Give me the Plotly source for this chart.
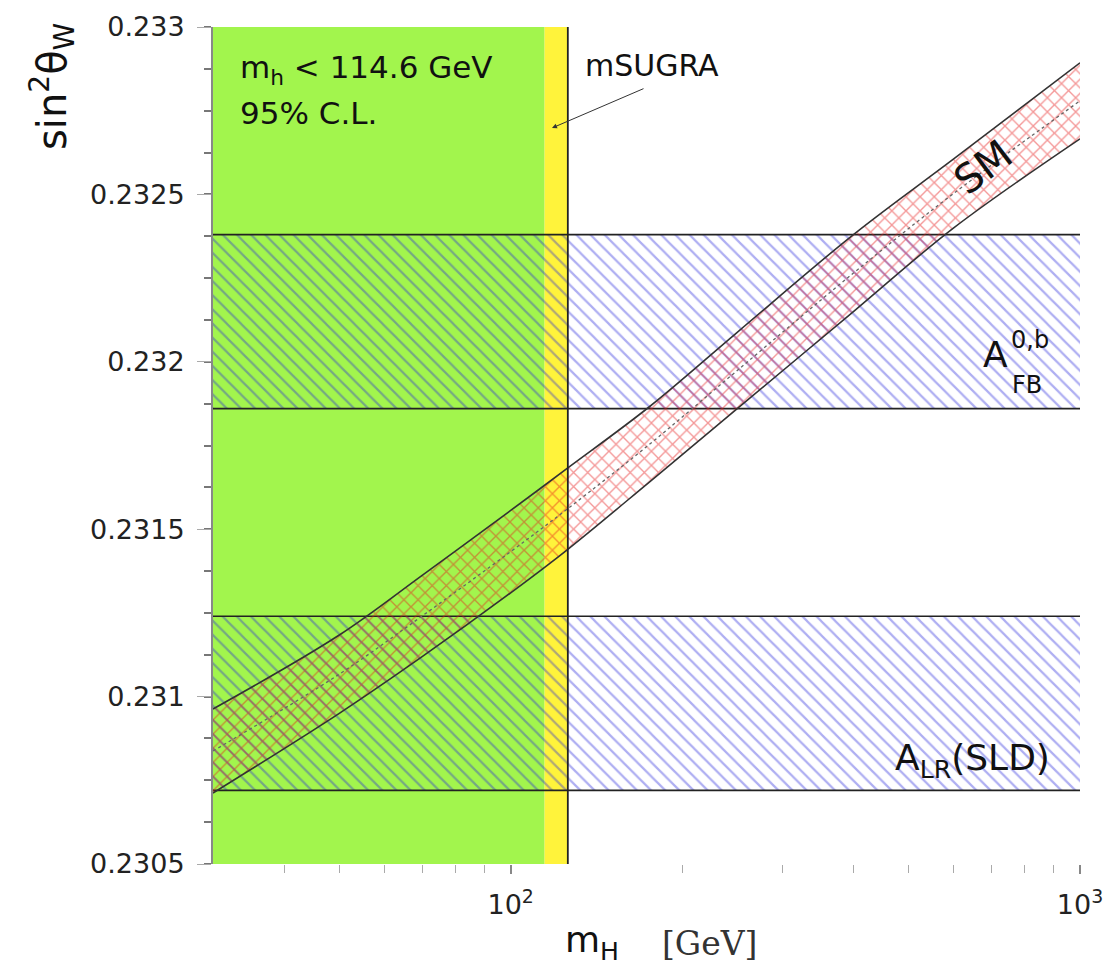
import numpy as np
import plotly.graph_objects as go

# ---------------- data ----------------
x_range_mh = [30, 1000]
y_range = [0.2305, 0.2330]

# excluded regions
lep_limit = 114.6          # m_h < 114.6 GeV (95% C.L.)
msugra_max = 126.0         # upper end of mSUGRA band

# measurement bands (sin^2 theta_W)
afb_band = [0.23186, 0.23238]   # A_FB^{0,b}
alr_band = [0.23072, 0.23124]   # A_LR (SLD)

# SM prediction band vs m_H
sm_mh = [30, 50, 70, 100, 126, 175, 250, 400, 600, 1000]
sm_upper = [0.230963, 0.231184, 0.231363, 0.231556, 0.231683, 0.231865, 0.232088, 0.232380, 0.232606, 0.232893]
sm_lower = [0.230712, 0.230950, 0.231120, 0.231310, 0.231440, 0.231640, 0.231860, 0.232150, 0.232400, 0.232666]
sm_center = [(u + l) / 2 for u, l in zip(sm_upper, sm_lower)]

y_major = [0.2305, 0.2310, 0.2315, 0.2320, 0.2325, 0.2330]
y_major_text = ["0.2305", "0.231", "0.2315", "0.232", "0.2325", "0.233"]
y_minor = [0.2305 + 0.000125 * i for i in range(21)]
x_major = [100, 1000]
x_major_text = ["10<sup>2</sup>", "10<sup>3</sup>"]
x_minor = [40, 50, 60, 70, 80, 90, 200, 300, 400, 500, 600, 700, 800, 900]

# ---------------- layout helpers ----------------
OFF = 8                      # default page body margin
W, H = 1118 - OFF, 967 - OFF
L, R, T, B = 213, 1080, 27, 864   # plot area in screenshot pixels


def px(x):
    return (x - L) / (R - L)


def py(y):
    return (B - y) / (B - T)


SANS = "DejaVu Sans, Verdana, sans-serif"
SERIF = "DejaVu Serif, Liberation Serif, serif"

fig = go.Figure()

# measurement bands (blue hatched)
for band in (afb_band, alr_band):
    fig.add_trace(go.Scatter(
        x=[x_range_mh[0], x_range_mh[1], x_range_mh[1], x_range_mh[0], x_range_mh[0]],
        y=[band[0], band[0], band[1], band[1], band[0]],
        mode="lines", line=dict(width=0), fill="toself",
        fillcolor="rgba(0,0,0,0)",
        fillpattern=dict(shape="\\", fgcolor="rgba(40,40,220,0.75)", bgcolor="rgba(0,0,0,0)",
                         size=10, solidity=0.22, fillmode="overlay"),
        hoverinfo="skip", showlegend=False))
    for yv in band:
        fig.add_trace(go.Scatter(x=x_range_mh, y=[yv, yv], mode="lines",
                                 line=dict(color="#222", width=1.6),
                                 hoverinfo="skip", showlegend=False))

# SM band (red cross-hatched) : lower edge, then upper edge filled to it
fig.add_trace(go.Scatter(x=sm_mh, y=sm_lower, mode="lines",
                         line=dict(color="#333", width=1.6, shape="spline", smoothing=1.0),
                         hoverinfo="skip", showlegend=False))
fig.add_trace(go.Scatter(
    x=sm_mh, y=sm_upper, mode="lines",
    line=dict(color="#333", width=1.6, shape="spline", smoothing=1.0),
    fill="tonexty", fillcolor="rgba(0,0,0,0)",
    fillpattern=dict(shape="x", fgcolor="rgba(230,25,25,0.9)", bgcolor="rgba(0,0,0,0)",
                     size=10, solidity=0.25, fillmode="overlay"),
    hoverinfo="skip", showlegend=False))
fig.add_trace(go.Scatter(x=sm_mh, y=sm_center, mode="lines",
                         line=dict(color="#666", width=1.3, dash="dot", shape="spline"),
                         hoverinfo="skip", showlegend=False))

# mSUGRA boundary line
fig.add_trace(go.Scatter(x=[msugra_max, msugra_max], y=y_range, mode="lines",
                         line=dict(color="#222", width=1.8),
                         hoverinfo="skip", showlegend=False))

shapes = [
    dict(type="rect", xref="x", yref="y", layer="below",
         x0=lep_limit, x1=msugra_max, y0=y_range[0], y1=y_range[1],
         fillcolor="#fff33b", line=dict(width=0)),
    dict(type="rect", xref="x", yref="y", layer="below",
         x0=x_range_mh[0], x1=lep_limit, y0=y_range[0], y1=y_range[1],
         fillcolor="#a2f54d", line=dict(width=0)),
]


def note(text, x, y, size, xanchor="center", angle=0, family=SANS, color="#111"):
    return dict(text=text, x=px(x), y=py(y), xref="paper", yref="paper",
                xanchor=xanchor, yanchor="middle", textangle=angle, showarrow=False,
                font=dict(family=family, size=size, color=color))


ann = [
    note("m<sub>h</sub> < 114.6 GeV", 238, 70, 31, "left"),
    note("95% C.L.", 238, 113, 31, "left"),
    note("mSUGRA", 583, 66, 30, "left"),
    dict(text="", x=px(552), y=py(128), xref="paper", yref="paper",
         ax=93, ay=-40, showarrow=True, arrowhead=2, arrowsize=1, arrowwidth=1,
         arrowcolor="#333"),
    note("SM", 983, 167, 40, angle=-37),
    note("A", 995, 354, 36),
    note("0,b", 1009, 340, 24, "left"),
    note("FB", 1010, 385, 24, "left"),
    note("A<sub>LR</sub>(SLD)", 1052, 760, 36, "right"),
    note("sin<sup>2</sup>θ<sub>W</sub>", 52, 87, 40, angle=-90),
    note("m<sub>H</sub>", 563, 942, 36, "left"),
    note("[GeV]", 660, 943, 33, "left", family=SERIF, color="#333"),
]

fig.update_layout(
    width=W, height=H,
    margin=dict(l=L - OFF, r=W - (R - OFF), t=T - OFF, b=H - (B - OFF), pad=0),
    paper_bgcolor="white", plot_bgcolor="white",
    shapes=shapes, annotations=ann, showlegend=False,
    xaxis=dict(type="log", range=[np.log10(x_range_mh[0]), np.log10(x_range_mh[1])],
               automargin=False,
               tickmode="array", tickvals=x_major, ticktext=x_major_text,
               ticks="outside", ticklen=9, tickwidth=1.5, tickcolor="#888",
               ticklabelstandoff=8,
               minor=dict(tickmode="array", tickvals=x_minor, ticks="outside",
                          ticklen=8, tickwidth=1.3, tickcolor="#aaa", showgrid=False),
               showgrid=False, zeroline=False, showline=False,
               tickfont=dict(family=SANS, size=27, color="#222")),
    yaxis=dict(range=y_range, tickmode="array", tickvals=y_major, ticktext=y_major_text,
               automargin=False,
               ticks="outside", ticklen=14, tickwidth=1.3, tickcolor="#aaa",
               ticklabelstandoff=7,
               minor=dict(tickmode="array", tickvals=y_minor, ticks="outside",
                          ticklen=7, tickwidth=1.5, tickcolor="#777", showgrid=False),
               showgrid=False, zeroline=False, showline=True, linecolor="#888", linewidth=2,
               tickfont=dict(family=SANS, size=27, color="#222")),
)

fig.write_html("out.html")
